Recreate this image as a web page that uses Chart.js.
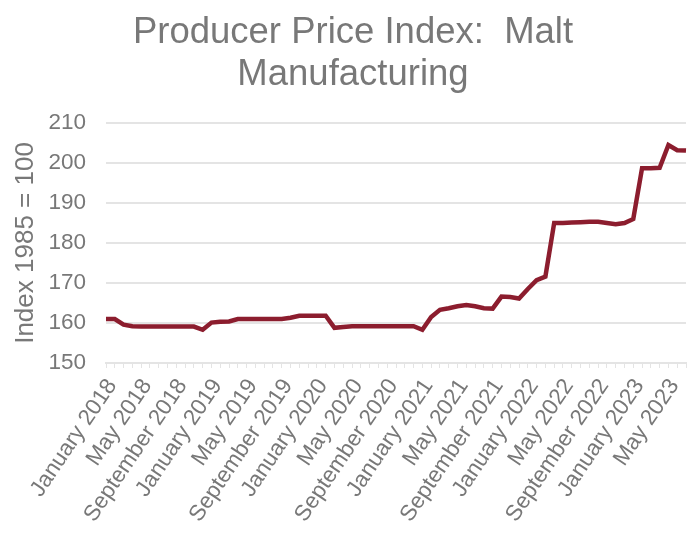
<!DOCTYPE html>
<html>
<head>
<meta charset="utf-8">
<script src="https://cdn.jsdelivr.net/npm/chart.js"></script>
<style>
  body { margin: 0; background: #fff; }
  #wrap { width: 690px; height: 542px; }
</style>
</head>
<body>
<div id="wrap"><canvas id="ppiChart"></canvas></div>
<script>
// Malt manufacturing PPI, monthly, Jan 2018 - Jul 2023
const monthNames = ['January', 'February', 'March', 'April', 'May', 'June',
  'July', 'August', 'September', 'October', 'November', 'December'];
const startYear = 2018;
const ppiValues = [
  161.0, 161.0, 159.6, 159.2, 159.1, 159.1, 159.1, 159.1, 159.1, 159.1, 159.1, 158.3,
  160.1, 160.3, 160.4, 161.0, 161.0, 161.0, 161.0, 161.0, 161.0, 161.3, 161.8, 161.8,
  161.8, 161.8, 158.8, 159.0, 159.2, 159.2, 159.2, 159.2, 159.2, 159.2, 159.2, 159.2,
  158.3, 161.5, 163.3, 163.7, 164.2, 164.5, 164.2, 163.7, 163.6, 166.6, 166.5, 166.1,
  168.5, 170.7, 171.6, 185.0, 185.0, 185.1, 185.2, 185.3, 185.3, 185.0, 184.7, 185.0,
  186.0, 198.7, 198.7, 198.8, 204.5, 203.2, 203.1
];

const labels = ppiValues.map((v, i) =>
  monthNames[i % 12] + ' ' + (startYear + Math.floor(i / 12)));

const textGray = '#787878';
const gridGray = '#e4e4e4';
const fontFamily = 'Liberation Sans, Arial, sans-serif';

new Chart(document.getElementById('ppiChart').getContext('2d'), {
  type: 'line',
  data: {
    labels: labels,
    datasets: [{
      data: ppiValues,
      borderColor: '#8c1d2e',
      borderWidth: 4.5,
      pointRadius: 0,
      tension: 0,
      fill: false
    }]
  },
  options: {
    responsive: true,
    maintainAspectRatio: false,
    animation: false,
    layout: { padding: { left: 20, right: 4, top: 12, bottom: 0 } },
    plugins: {
      legend: { display: false },
      tooltip: { enabled: false },
      title: {
        display: true,
        text: ['Producer Price Index:  Malt', 'Manufacturing'],
        color: textGray,
        font: { family: fontFamily, size: 36.5, weight: 'normal', lineHeight: 1.15 },
        padding: { top: 0, bottom: 27 }
      }
    },
    scales: {
      x: {
        // keep the plot area fixed instead of making room for the rotated labels
        afterFit: function (scale) {
          scale.paddingLeft = 0;
          scale.paddingRight = 0;
          scale.height = 179;
        },
        grid: { drawOnChartArea: false, color: gridGray, tickLength: 5, lineWidth: 1 },
        border: { color: gridGray, width: 2 },
        ticks: {
          autoSkip: false,
          minRotation: 56,
          maxRotation: 56,
          color: textGray,
          padding: 6,
          labelOffset: 6,
          font: { family: fontFamily, size: 22.5 },
          callback: function (value, index) {
            return index % 4 === 0 ? this.getLabelForValue(value) : '';
          }
        }
      },
      y: {
        afterFit: function (scale) {
          scale.width = 86;
        },
        min: 150,
        max: 210,
        ticks: {
          stepSize: 10,
          color: textGray,
          padding: 20,
          font: { family: fontFamily, size: 22.5 }
        },
        grid: { color: gridGray, lineWidth: 2, drawTicks: false },
        border: { display: false },
        title: {
          display: true,
          text: 'Index 1985 = 100',
          color: textGray,
          font: { family: fontFamily, size: 26 },
          padding: { top: -10, bottom: 0 }
        }
      }
    }
  }
});
</script>
</body>
</html>
